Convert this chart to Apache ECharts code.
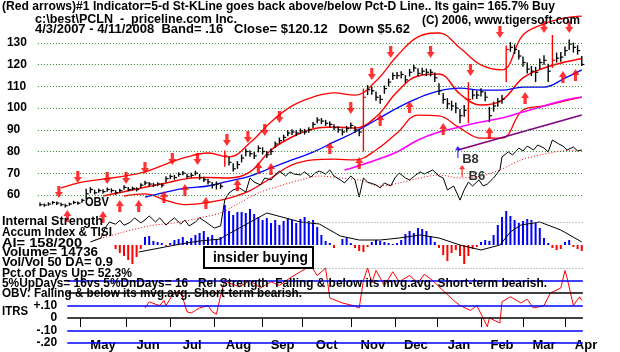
<!DOCTYPE html>
<html><head><meta charset="utf-8">
<script src="https://cdn.jsdelivr.net/npm/echarts@6/dist/echarts.min.js"></script>
<style>html,body{margin:0;padding:0;background:#fff}#c{width:620px;height:352px}</style>
</head><body><div id="c"></div>
<script>
// ---------- DATA ----------
// price samples every 2 trading days starting 4/3/2007 (day 0)
const priceStep = 2;
const priceClose = [55.5,55.3,55.8,56.5,56.2,55.5,55.0,55.8,56.5,56.2,
 57.5,60.5,62.5,61.0,62.0,61.5,62.5,62.0,61.0,62.0,
 63.5,62.5,63.0,62.5,64.5,65.5,65.0,64.5,65.0,64.5,
 67.5,68.5,68.0,69.5,70.0,68.5,69.0,70.0,68.0,67.0,
 66.0,64.5,65.0,64.0,78.0,75.0,72.0,74.0,77.0,80.0,
 79.0,78.0,81.5,80.0,78.5,80.0,83.5,85.0,86.5,88.5,
 89.0,88.5,89.5,89.0,90.0,92.5,94.5,94.0,93.0,92.5,
 91.0,90.0,89.0,90.5,92.0,90.0,89.0,105.0,108.5,108.0,
 105.0,104.0,109.0,112.0,115.0,115.0,115.5,113.0,116.5,118.5,
 116.0,117.0,116.5,116.5,114.0,108.0,104.0,102.0,101.0,100.0,
 96.5,99.0,104.0,106.0,106.0,107.5,105.0,96.5,101.0,103.0,
 104.0,127.0,128.0,127.0,124.0,121.0,118.0,117.0,116.5,121.0,
 122.0,117.0,122.0,123.0,123.5,126.5,129.5,128.0,126.5,120.1];
const priceHigh = [56.5,56.0,56.6,57.2,57.0,56.4,55.9,56.5,57.3,57.0,
 58.2,62.8,63.6,62.4,63.0,62.6,63.4,63.0,62.2,62.8,
 64.4,63.6,63.8,63.5,65.4,66.5,66.0,65.6,65.8,65.4,
 68.6,69.4,69.2,70.4,71.0,69.8,70.2,71.2,69.6,68.4,
 67.4,66.0,66.2,65.4,80.5,77.6,74.6,75.6,78.6,81.4,
 80.6,79.8,82.8,82.0,80.2,81.4,84.6,86.4,87.8,89.8,
 90.2,89.8,90.6,90.4,91.2,93.6,95.8,95.4,94.6,93.8,
 92.6,91.6,90.6,91.8,93.4,91.8,90.6,109.0,110.6,110.0,
 107.6,106.0,110.4,113.6,116.4,116.6,117.0,115.2,118.0,120.0,
 118.4,118.6,118.2,118.0,116.4,111.4,107.0,104.6,103.4,102.6,
 99.6,101.4,112.0,108.4,108.0,109.2,107.6,100.6,103.0,104.6,
 106.0,128.8,130.4,129.4,126.8,123.8,121.0,119.4,119.0,122.8,
 124.4,120.4,133.7,125.6,125.8,128.4,131.6,130.2,129.0,124.0];
const priceLow = [54.8,54.5,55.0,55.6,55.4,54.8,54.2,55.0,55.7,55.5,
 56.4,58.0,60.8,60.2,61.0,60.6,61.4,61.0,60.0,60.8,
 62.4,61.8,62.0,61.6,63.2,64.4,64.0,63.6,64.0,63.4,
 65.8,67.2,67.0,68.4,69.0,67.6,68.0,69.0,67.0,66.0,
 64.8,63.0,62.5,62.8,73.0,73.6,70.8,72.0,75.0,77.8,
 77.6,76.6,79.6,78.6,77.0,78.4,81.6,83.6,85.0,87.0,
 87.6,87.2,88.0,87.8,88.6,90.8,93.0,92.6,91.8,91.0,
 89.8,88.6,87.4,88.8,90.6,88.6,87.0,80.0,106.0,106.2,
 103.4,102.0,106.6,110.0,113.0,113.4,113.6,111.6,114.6,116.8,
 114.6,115.4,114.8,114.6,112.0,106.0,102.0,99.6,98.8,97.6,
 93.0,96.0,93.0,104.0,104.2,105.4,103.2,93.5,98.4,100.6,
 102.0,112.0,126.0,125.0,122.4,119.0,116.0,114.8,112.0,118.0,
 120.0,112.0,118.5,121.0,121.4,124.0,126.8,125.6,124.6,119.4];
const redBarSamples = [44,77,102,111,122];

const bandDays   = [0,10,20,30,40,50,60,70,80,90,100,110,120,130,140,150,160,170,180,190,200,210,220,230,240,250,258];
const upperBand  = [null,63.2,65.9,67.3,68.7,70.6,74.2,77.5,79.3,77.5,84.0,93.6,101.0,105.1,107.0,106.0,112.5,124.0,132.8,134.6,127.7,119.9,117.6,133.7,138.8,141.5,142.4];
const middleBand = [null,null,null,59.5,61.5,63.5,65.5,67.5,68.0,67.8,70.6,80.7,86.7,90.4,91.3,90.8,95.9,107.4,114.8,115.7,106.5,101.4,103.7,113.9,118.5,121.2,122.9];
const lowerBand  = [null,null,null,null,59.5,60.5,57.5,55.5,56.5,58.5,62.0,67.8,73.8,76.1,76.5,76.1,80.7,88.5,96.8,96.4,90.8,86.2,86.2,99.1,101.0,103.3,105.1];
const blueAvg    = [null,null,null,null,null,59.0,61.3,63.2,64.1,66.4,68.7,72.4,76.1,79.7,84.4,89.0,94.5,100.0,104.6,107.9,109.2,108.3,108.3,109.7,109.7,113.8,117.6];
const magentaDays = [145,150,160,170,180,190,200,210,220,230,240,250,258];
const magentaVals = [71.5,72.9,76.1,79.8,85.3,89.0,91.3,93.6,95.4,98.2,101.0,103.7,105.1];
const purpleDays = [199,258];
const purpleVals = [80.7,96.8];

const obvDays = [24,29,31,33,36,38,40,43,45,48,50,52,55,57,60,62,64,67,69,71,74,76,79,81,83,86,88,90,92,95,98,100,102,105,107,110,112,114,117,119,121,124,126,129,131,133,136,138,140,143,145,148,150,152,154,156,160,162,164,167,169,171,174,176,179,181,183,187,190,192,194,197,200,202,204,206,209,211,213,216,219,220,223,225,228,230,232,235,237,240,242,244,247,249,251,254,256,258];
const obvVals = [38.3,40.1,44.7,47.5,46.5,48.3,46.0,47.4,49.4,47.1,48.5,50.3,47.5,49.4,46.1,47.9,49.4,46.6,48.4,45.7,47.5,49.4,47.5,46.1,44.7,45.7,57.7,60.9,62.3,63.2,61.3,67.8,65.9,64.6,67.8,66.9,69.2,71.0,68.7,70.6,69.6,69.2,70.6,68.2,70.1,71.0,69.6,71.5,68.7,66.9,65.5,68.7,66.9,59.0,67.8,65.9,64.6,63.2,65.5,64.1,67.8,70.1,67.8,66.9,69.2,70.6,69.6,71.5,68.7,67.8,62.3,64.1,57.6,62.3,65.9,64.1,66.9,64.1,65.0,67.8,71.5,77.5,79.8,78.4,81.6,80.2,82.5,80.7,83.0,81.6,79.8,85.3,83.5,82.5,80.7,82.1,80.2,80.7];
const obvMaDays = [26,38,52,67,76,86,95,105,114,124,133,143,152,162,171,181,190,200,210,219,229,238,248,258];
const obvMaVals = [39.2,42.4,45.7,47.5,49.4,51.7,56.3,61.3,64.1,66.9,68.7,67.8,66.9,64.1,65.5,67.8,69.2,67.8,68.7,71.5,76.1,78.4,80.2,80.7];

const downDays = [9,18,32,41,50,63,75,89,99,107,114,148,158,167,186,205,219,240,252];
const downVals = [61.3,68.2,67.8,67.8,72.4,76.5,76.5,85.3,86.7,89.9,95.9,100,115.7,125.9,125.9,117.6,135.1,137.4,137.4];
const upDays = [13,30,38,47,59,69,79,94,104,110,138,152,162,176,192,214,231,249,255];
const upVals = [50.3,49.8,54.9,54.9,59.0,62.3,56.3,64.6,72.4,71.9,81.6,74.7,94.5,100.5,90.4,88.5,104.7,114.3,115.3];
const signalDays = [199,201];
const signalVals = [79.8,71.0];
const signalNames = ['B8','B6'];
const signalLabelDays = [205,208];
const signalLabelVals = [76.5,68.7];

// Accumulation index: every 2 trading days from day 36
const aiStartDay = 36;
const aiVals = [-4,-8,-11,-15,-19,-12,-4,8,9,4,
 3,2,-1,2,5,6,8,4,7,10,
 12,14,8,10,6,8,40,34,30,33,
 33,32,36,31,28,25,27,22,25,20,
 24,27,25,22,26,28,24,25,18,10,
 4,2,-3,0,6,7,2,-3,-6,-7,
 -2,3,5,4,3,2,1,2,5,11,
 14,12,17,16,14,9,3,-3,-10,-16,
 -8,-5,-11,-19,-11,-4,-2,3,5,4,
 10,20,28,34,29,25,22,24,26,25,
 22,17,7,2,-3,-5,-4,3,5,-2,
 -4,-6];
const aiLineDays = [47,57,67,76,86,88,95,108,117,124,133,143,152,162,171,181,190,200,210,219,224,229,238,248,258];
const aiLineVals = [-7,-3,1,4,6,9,17,32,27,23,21,9,5,5,7,10,7,0,-5,0,13,20,23,15,3];

const itrsDays = [50,52,55,57,59,60,63,66,68,70,72,74,76,80,82,84,86,88,90,95,100,105,110,114,119,124,129,132,136,138,144,149,152,154,156,158,160,164,168,171,176,180,183,187,190,197,200,205,208,211,213,214,219,220,224,229,232,235,240,243,248,250,251,254,257,258];
const itrsVals = [0.08,0.13,0.11,0.10,0.14,0.10,0.18,0.22,0.16,0.05,0.04,0.06,0.08,0.10,0.05,0.03,0.18,0.30,0.28,0.25,0.30,0.24,0.29,0.26,0.32,0.37,0.42,0.34,0.40,0.16,0.12,0.10,0.08,0.30,0.40,0.28,0.38,0.26,0.37,0.29,0.34,0.28,0.35,0.30,0.25,0.14,0.10,0.06,0.10,0.00,-0.07,0.00,-0.04,0.13,0.17,0.12,0.15,0.08,0.10,0.20,0.24,0.38,0.32,0.10,0.17,0.14];

const priceTicks = [60,70,80,90,100,110,120,130];
const aiDotLevels = [23,-23];
const itrsLevels = [0.3,0.2,0.1,0,-0.1,-0.2];
const itrsTicks = [0.1,0,-0.1,-0.2];
const itrsTickLabels = ['+.10','0','-.10','-.20'];
const monthStartDays = [19,41,62,83,106,125,148,169,189,210,230,250];
const monthMidDays = [30,51.5,72.5,94.5,115.5,136.5,158.5,179,199.5,220,240,260];
const monthNames = ['May','Jun','Jul','Aug','Sep','Oct','Nov','Dec','Jan','Feb','Mar','Apr'];

// ---------- LAYOUT ----------
const FF = '"Liberation Sans", Arial, Helvetica, sans-serif';
const XMIN = -1, XMAX = 262, PXD = 2.1, LEFT = 37.9, LASTDAY = 258.5;
const GW = (XMAX - XMIN) * PXD;
const PY = 2.17;
const grids = [
  {left: LEFT, top: 43 - (145 - 130) * PY, width: GW, height: (145 - 35) * PY},
  {left: LEFT, top: 195, width: GW, height: 80},
  {left: LEFT, top: 255.5, width: GW, height: 87.5}
];

const zip = (a, b) => a.map((d, i) => [d, b[i]]).filter(p => p[1] != null);
const hLines = (levels, from, to, styleFn) => levels.map(v => [
  {coord: [from, v], lineStyle: styleFn(v)}, {coord: [to, v]}]);

const downPath = 'path://M3,0L7,0L7,6L10,6L5,12L0,6L3,6Z';
const upPath = 'path://M5,0L10,6L7,6L7,12L3,12L3,6L0,6Z';
const thinUp = 'path://M4,0L8,5L4.8,5L4.8,14L3.2,14L3.2,5L0,5Z';

const chart = echarts.init(document.getElementById('c'), null, {width: 620, height: 352});

const priceData = priceClose.map((c, i) => [i * priceStep, priceHigh[i], priceLow[i], c]);

const cv = document.createElement('canvas').getContext('2d');
function txt(t, x, y, w, size, extra) {
  const font = 'bold ' + size + 'px ' + FF;
  cv.font = font;
  const m = cv.measureText(t).width;
  return Object.assign({type: 'text', x: x, y: y, scaleX: w / m, z: 100,
    style: {text: t, font: font, fill: '#000', textAlign: 'left', align: 'left',
      textVerticalAlign: 'middle', verticalAlign: 'middle'}}, extra || {});
}
const texts = [
  ['(Red arrows)#1 Indicator=5-d St-KLine goes back above/below Pct-D Line.. Its gain= 165.7% Buy', 2, 7, 553, 12],
  ['c:\\best\\PCLN  -  priceline.com Inc.', 35, 20, 202, 12],
  ['(C) 2006, www.tigersoft.com', 422, 21, 158, 12],
  ['4/3/2007 - 4/11/2008  Band= .16   Close= $120.12   Down $5.62', 35, 30, 375, 12],
  ['OBV', 85, 202, 24, 13],
  ['Internal Strength', 2, 221, 101, 13],
  ['Accum Index & TISI', 2, 232, 110, 13],
  ['AI= 158/200', 2, 243, 80, 13],
  ['Volume= 14736', 2, 252, 96, 13],
  ['Vol/Vol 50 DA= 0.9', 2, 262, 111, 13],
  ['Pct.of Days Up= 52.3%', 2, 273, 130, 13],
  ['5%UpDays= 16vs 5%DnDays= 16   Rel Strength  Falling & below its mvg.avg. Short-term bearish.', 2, 283, 545, 13],
  ['OBV: Falling & below its mvg.avg. Short-term bearish.', 2, 293, 300, 13],
  ['ITRS', 2, 311, 26, 13]
];
const graphics = texts.map(t => txt(t[0], t[1], t[2], t[3], t[4]));
graphics.push({type: 'rect', z: 99, shape: {x: 204, y: 247, width: 109, height: 21},
  style: {fill: '#fff', stroke: '#000', lineWidth: 2}});
graphics.push(txt('insider buying', 213, 257.5, 95, 15, {z: 101}));

const labelFont = {color: '#000', fontWeight: 'bold', fontFamily: FF};

chart.setOption({
  animation: false,
  backgroundColor: '#fff',
  grid: grids,
  xAxis: [0, 1, 2].map(i => ({
    gridIndex: i, type: 'value', min: XMIN, max: XMAX, show: i === 2,
    offset: -6,
    axisLine: {show: false}, splitLine: {show: false},
    axisTick: {show: true, customValues: monthStartDays, length: 9, lineStyle: {color: '#000', width: 1}},
    axisLabel: Object.assign({show: true, customValues: monthMidDays, margin: 2, fontSize: 13,
      formatter: v => monthNames[monthMidDays.indexOf(v)] || ''}, labelFont)
  })),
  yAxis: [
    {gridIndex: 0, type: 'value', min: 35, max: 145, axisLine: {show: false}, axisTick: {show: false},
      splitLine: {show: false},
      axisLabel: Object.assign({customValues: priceTicks, align: 'left', margin: 31, fontSize: 12}, labelFont)},
    {gridIndex: 1, type: 'value', min: -30, max: 50, show: false, splitLine: {show: false}},
    {gridIndex: 2, type: 'value', min: -0.2, max: 0.5, axisLine: {show: false}, axisTick: {show: false},
      splitLine: {show: false},
      axisLabel: Object.assign({customValues: itrsTicks, align: 'right', margin: -19.3, fontSize: 12,
        formatter: v => itrsTickLabels[itrsTicks.indexOf(v)] || ''}, labelFont)}
  ],
  graphic: graphics,
  series: [
    {type: 'line', xAxisIndex: 0, yAxisIndex: 0, data: [], z: 1,
      markLine: {silent: true, symbol: ['none', 'none'], label: {show: false}, animation: false,
        data: hLines(priceTicks, XMIN, LASTDAY, () => ({color: '#2f8a2f', type: [1, 2], width: 1}))}},
    {type: 'line', xAxisIndex: 1, yAxisIndex: 1, data: [], z: 1,
      markLine: {silent: true, symbol: ['none', 'none'], label: {show: false}, animation: false,
        data: hLines(aiDotLevels, 125, LASTDAY, () => ({color: '#8a8a8a', type: [1, 2], width: 1}))}},
    {type: 'line', xAxisIndex: 2, yAxisIndex: 2, data: [], z: 1,
      markLine: {silent: true, symbol: ['none', 'none'], label: {show: false}, animation: false,
        data: hLines(itrsLevels, 13, LASTDAY, v => ({color: (v === 0 || v === 0.2) ? '#000' : '#0000ff', type: 'solid', width: 1.5}))}},
    // bands and averages
    {type: 'line', xAxisIndex: 0, yAxisIndex: 0, data: zip(bandDays, upperBand), showSymbol: false, smooth: 0.4,
      lineStyle: {color: '#ff0000', width: 1.3}},
    {type: 'line', xAxisIndex: 0, yAxisIndex: 0, data: zip(bandDays, middleBand), showSymbol: false, smooth: 0.4,
      lineStyle: {color: '#ff0000', width: 1.5}},
    {type: 'line', xAxisIndex: 0, yAxisIndex: 0, data: zip(bandDays, lowerBand), showSymbol: false, smooth: 0.4,
      lineStyle: {color: '#ff0000', width: 1.3}},
    {type: 'line', xAxisIndex: 0, yAxisIndex: 0, data: zip(bandDays, blueAvg), showSymbol: false, smooth: 0.4,
      lineStyle: {color: '#0000ff', width: 1.3}},
    {type: 'line', xAxisIndex: 0, yAxisIndex: 0, data: zip(magentaDays, magentaVals), showSymbol: false, smooth: 0.4,
      lineStyle: {color: '#ff00ff', width: 1.6}},
    {type: 'line', xAxisIndex: 0, yAxisIndex: 0, data: zip(purpleDays, purpleVals), showSymbol: false,
      lineStyle: {color: '#800080', width: 1.6}},
    // OBV
    {type: 'line', xAxisIndex: 0, yAxisIndex: 0, data: zip(obvMaDays, obvMaVals), showSymbol: false, smooth: 0.3,
      lineStyle: {color: '#ff0000', width: 1, type: [1, 2]}},
    {type: 'line', xAxisIndex: 0, yAxisIndex: 0, data: zip(obvDays, obvVals), showSymbol: false,
      lineStyle: {color: '#000', width: 1}},
    // price bars (high-low with close tick)
    {type: 'custom', xAxisIndex: 0, yAxisIndex: 0, z: 5, data: priceData, encode: {x: 0, y: [1, 2, 3]},
      renderItem: function (params, api) {
        const d = api.value(0);
        const hi = api.coord([d, api.value(1)]);
        const lo = api.coord([d, api.value(2)]);
        const cl = api.coord([d, api.value(3)]);
        const col = redBarSamples.indexOf(params.dataIndex) >= 0 ? '#ff0000' : '#000';
        return {type: 'group', children: [
          {type: 'line', shape: {x1: hi[0], y1: hi[1], x2: lo[0], y2: lo[1]}, style: {stroke: col, lineWidth: 1.4}},
          {type: 'line', shape: {x1: cl[0], y1: cl[1], x2: cl[0] + 2.6, y2: cl[1]}, style: {stroke: col, lineWidth: 1.2}}
        ]};
      }},
    // arrows
    {type: 'scatter', xAxisIndex: 0, yAxisIndex: 0, z: 6, data: zip(downDays, downVals), symbol: downPath,
      symbolSize: [8, 12], itemStyle: {color: '#ff0000'}},
    {type: 'scatter', xAxisIndex: 0, yAxisIndex: 0, z: 6, data: zip(upDays, upVals), symbol: upPath,
      symbolSize: [8, 12], itemStyle: {color: '#ff0000'}},
    {type: 'scatter', xAxisIndex: 0, yAxisIndex: 0, z: 6, symbol: thinUp, symbolSize: [6, 12],
      data: signalDays.map((d, i) => ({value: [d, signalVals[i]], itemStyle: {color: i === 0 ? '#0000ff' : '#ff0000'}}))},
    {type: 'scatter', xAxisIndex: 0, yAxisIndex: 0, z: 7, symbolSize: 1, itemStyle: {color: 'rgba(0,0,0,0)'},
      data: signalLabelDays.map((d, i) => ({value: [d, signalLabelVals[i]], name: signalNames[i]})),
      label: Object.assign({show: true, position: 'inside', fontSize: 13, formatter: p => p.name}, labelFont)},
    // accumulation index
    {type: 'bar', xAxisIndex: 1, yAxisIndex: 1, barWidth: 2, z: 3,
      data: aiVals.map((v, i) => ({value: [aiStartDay + i * priceStep, v], itemStyle: {color: v >= 0 ? '#0000ff' : '#ff0000'}}))},
    {type: 'line', xAxisIndex: 1, yAxisIndex: 1, data: zip(aiLineDays, aiLineVals), showSymbol: false, z: 4,
      lineStyle: {color: '#000', width: 1}},
    // ITRS
    {type: 'line', xAxisIndex: 2, yAxisIndex: 2, data: zip(itrsDays, itrsVals), showSymbol: false, z: 4,
      lineStyle: {color: '#ff0000', width: 1}}
  ]
});
</script>
</body></html>
